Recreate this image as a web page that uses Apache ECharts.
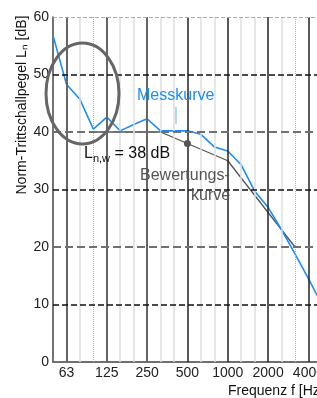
<!DOCTYPE html>
<html>
<head>
<meta charset="utf-8">
<script src="https://cdn.jsdelivr.net/npm/echarts@6/dist/echarts.min.js"></script>
<style>
  html, body { margin: 0; padding: 0; background: #fff; overflow: hidden; }
  /* Diagramm laeuft rechts ueber den Rand hinaus (5000 Hz abgeschnitten) */
  #chart { width: 327px; height: 398px; }
</style>
</head>
<body>
<div id="chart"></div>
<script>
// Terzbaender (Hz)
var freqs = ['50','63','80','100','125','160','200','250','315','400','500','630','800','1000','1250','1600','2000','2500','3150','4000','5000'];
// beschriftete Oktaven
var octaveLabels = ['63','125','250','500','1000','2000','4000'];
// Messkurve (dB)
var messkurve = [56.8, 48.3, 45.7, 40.5, 42.6, 40.2, 41.3, 42.3, 40.2, 40.2, 40.2, 39.6, 37.4, 36.7, 34.3, 29.7, 26.9, 23.0, 18.8, 14.5, 10.0];
// verschobene Bezugskurve (dB), 100 - 3150 Hz
var bewertung = [null, null, null, 40, 40, 40, 40, 40, 40, 39, 38, 37, 36, 35, 32, 29, 26, 23, 20, null, null];
var yTicks = [0, 10, 20, 30, 40, 50, 60];
var lnw = 38;

var font = 'Liberation Sans';
var myChart = echarts.init(document.getElementById('chart'));

// Gitterlinien ueber markLine, damit jede Linie ihren eigenen Stil hat
var gridLines = [];
freqs.forEach(function (f, i) {
    if (i === 0 || i === freqs.length - 1) return;
    var style;
    if (f === '100' || f === '3150') {
        style = { color: '#b0b0b0', width: 1, type: 'dotted' };
    } else if (f === '63' || f === '125' || f === '250') {
        style = { color: '#666', width: 2, type: 'solid' };
    } else if (octaveLabels.indexOf(f) >= 0) {
        style = { color: '#222', width: 1.5, type: 'solid' };
    } else {
        style = { color: '#dedede', width: 1.5, type: 'solid' };
    }
    gridLines.push({ xAxis: f, lineStyle: style });
});
yTicks.forEach(function (v) {
    if (v === 0) return;
    var style;
    if (v === 60) style = { color: '#aaa', width: 1 };
    else if (v % 20 === 0) style = { color: '#707070', width: 2 };
    else style = { color: '#111', width: 1.5 };
    gridLines.push({ yAxis: v, lineStyle: style });
});

var option = {
    animation: false,
    grid: { left: 53, top: 17, right: 0.6, bottom: 36 },
    xAxis: {
        type: 'category',
        data: freqs,
        boundaryGap: false,
        axisLine: { lineStyle: { color: '#707070', width: 2 } },
        axisTick: { show: false },
        splitLine: { show: false },
        axisLabel: {
            interval: function (i, v) { return octaveLabels.indexOf(v) >= 0; },
            color: '#222', fontSize: 14, fontFamily: font, margin: 4
        }
    },
    yAxis: {
        type: 'value',
        min: 0, max: 60, interval: 10,
        axisLine: { show: true, lineStyle: { color: '#444', width: 1.5 } },
        axisTick: { show: false },
        splitLine: { show: false },
        axisLabel: { color: '#222', fontSize: 14, fontFamily: font, margin: 4 }
    },
    series: [
        {
            type: 'line',
            data: [],
            z: 1,
            silent: true,
            markLine: {
                silent: true,
                symbol: ['none', 'none'],
                label: { show: false },
                data: gridLines
            }
        },
        {
            name: 'Bewertungskurve',
            type: 'line',
            data: bewertung,
            z: 3,
            symbol: 'none',
            lineStyle: { color: '#555', width: 1.3 },
            markPoint: {
                symbol: 'circle',
                symbolSize: 7,
                itemStyle: { color: '#555' },
                label: { show: false },
                data: [{ coord: ['500', lnw] }]
            }
        },
        {
            name: 'Messkurve',
            type: 'line',
            data: messkurve,
            z: 4,
            symbol: 'none',
            lineStyle: { color: '#1e8cf5', width: 1.6 }
        }
    ],
    graphic: [
        {
            type: 'ellipse',
            shape: { cx: 82.5, cy: 93.5, rx: 36.5, ry: 50.5 },
            style: { fill: null, stroke: '#666', lineWidth: 3 },
            z: 10
        },
        {
            type: 'line',
            shape: { x1: 176, y1: 107, x2: 176, y2: 124 },
            style: { stroke: '#9fcaf2', lineWidth: 1.5 },
            z: 10
        },
        {
            type: 'text',
            left: 137, top: 88,
            style: { text: 'Messkurve', fill: '#1e8cf5', font: '16px "Liberation Sans"' },
            z: 10
        },
        {
            type: 'text',
            left: 84, top: 146,
            style: {
                text: '{a|L}{b|n,w}{a| = ' + lnw + ' dB}',
                rich: {
                    a: { fontSize: 16, fontFamily: font, fill: '#111', verticalAlign: 'bottom' },
                    b: { fontSize: 11, fontFamily: font, fill: '#111', verticalAlign: 'bottom', padding: [0, 0, -2, 0] }
                }
            },
            z: 10
        },
        {
            type: 'text',
            left: 140, top: 168,
            style: { text: 'Bewertungs-', fill: '#555', font: '16px "Liberation Sans"' },
            z: 10
        },
        {
            type: 'text',
            left: 191, top: 188,
            style: { text: 'kurve', fill: '#555', font: '16px "Liberation Sans"' },
            z: 10
        },
        {
            type: 'text',
            x: 22, y: 105,
            rotation: Math.PI / 2,
            style: {
                text: 'Norm-Trittschallpegel L\u2099 [dB]',
                fill: '#111', font: '14px "Liberation Sans"',
                align: 'center', verticalAlign: 'middle'
            },
            z: 10
        },
        {
            type: 'text',
            left: 228, top: 384,
            style: { text: 'Frequenz f [Hz]', fill: '#111', font: '14px "Liberation Sans"' },
            z: 10
        }
    ]
};
myChart.setOption(option);
</script>
</body>
</html>
